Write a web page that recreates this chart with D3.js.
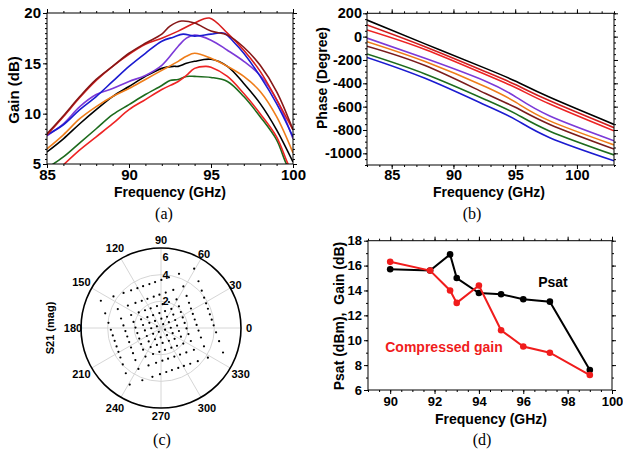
<!DOCTYPE html>
<html>
<head>
<meta charset="utf-8">
<script src="https://cdn.jsdelivr.net/npm/d3@7"></script>
<style>
  body { margin: 0; background: #fff; }
  svg text { font-family: "Liberation Sans", Arial, sans-serif; font-weight: bold; }
  .cap { font-family: "Liberation Serif", "Times New Roman", serif !important; font-weight: normal !important; }
</style>
</head>
<body>
<svg id="chart" width="623" height="456"></svg>
<script>
// ---------- data ----------
// (a) gain vs frequency, eight states  [GHz, dB]
const gainMaroon = [[85,8.0],[86,9.8],[87,11.7],[88,13.4],[89,14.7],[90,16.0],[91,17.0],[92,17.9],[92.5,18.7],[93.2,19.2],[94,19.0],[95,18.2],[96,17.8],[97,16.6],[98,14.8],[99,12.2],[100,8.4]];
const gainRedHigh = [[85,7.9],[86,9.7],[87,11.6],[88,13.3],[89,14.7],[90,15.9],[91,16.9],[92,17.5],[93,18.2],[94,19.0],[94.9,19.5],[96,18.0],[97,16.3],[98,14.2],[99,11.4],[100,8.4]];
const gainBlue = [[85,7.9],[86,8.9],[87,10.4],[88,11.7],[89,13.2],[90,14.7],[91,16.0],[92,17.2],[92.7,17.6],[93.3,17.9],[94,17.7],[95,17.9],[95.8,18.0],[96.4,17.1],[97,16.0],[98,13.7],[99,11.0],[100,7.7]];
const gainPurple = [[85,7.8],[86,9.0],[87,10.7],[88,11.9],[89,12.5],[90,13.2],[91,13.8],[92,14.8],[93,16.7],[93.5,17.5],[94,17.8],[95,17.3],[96,16.3],[97,15.2],[98,13.8],[99,11.4],[100,7.5]];
const gainOrange = [[85,6.5],[86,7.9],[87,9.5],[88,10.7],[89,11.7],[90,12.5],[91,13.4],[92,14.3],[93,15.2],[93.5,15.7],[94,16.0],[95,15.5],[96,14.7],[97,13.7],[98,12.2],[99,9.7],[100,6.1]];
const gainBlack = [[85,6.2],[86,7.5],[87,9.0],[88,10.4],[89,11.7],[90,12.7],[91,13.7],[92,14.5],[92.7,14.7],[93,14.7],[93.5,15.0],[94,15.2],[95,15.4],[96,14.7],[97,13.0],[98,11.0],[99,8.4],[100,5.2]];
const gainGreen = [[85,4.6],[86,5.7],[87,7.1],[88,8.5],[89,9.9],[90,10.9],[91,11.9],[92,12.8],[92.5,13.3],[93,13.4],[93.5,13.7],[94,13.7],[95,13.6],[96,13.2],[97,11.7],[98,9.7],[99,7.4],[99.6,5.0],[100,4.0]];
const gainRedLow = [[85.8,4.6],[87,6.4],[88,7.7],[89,9.0],[90,10.4],[91,11.4],[92,12.4],[93,13.2],[93.5,13.8],[94,14.5],[94.7,14.7],[95,14.6],[96,13.7],[97,12.0],[98,10.0],[99,7.7],[99.7,5.0],[100,4.2]];

// (b) phase vs frequency  [deg]
const phaseFreq   = [83, 87.7, 92.6, 95.1, 97.8, 103];
const phaseBlack  = [142, -62, -272, -385, -520, -752];
const phaseRed1   = [100, -87, -301, -415, -550, -780];
const phaseRed2   = [57, -110, -325, -440, -578, -808];
const phasePurple = [-12, -186, -382, -520, -680, -892];
const phaseOrange = [-44, -214, -430, -566, -722, -928];
const phaseMaroon = [-82, -248, -488, -610, -752, -963];
const phaseGreen  = [-149, -320, -540, -664, -810, -1014];
const phaseBlue   = [-178, -357, -588, -715, -866, -1064];

// (c) S21 constellation: in-phase / quadrature levels (mag units) and rotation of the grid
const iLevels = [-3.6, -2.6, -1.8, -1.2, -0.7, -0.25, 0.25, 0.7, 1.2, 1.8, 2.6, 3.8];
const qLevels = [-3.25, -2.35, -1.65, -1.1, -0.65, -0.22, 0.22, 0.65, 1.1, 1.65, 2.4, 3.4];
const gridRotationDeg = 19;
const polarAngles = [0, 30, 60, 90, 120, 150, 180, 210, 240, 270, 300, 330];
const polarRings = [2, 4, 6];

// (d) Psat and compressed gain
const satFreq = [90, 91.8, 92.7, 93, 94, 95, 96, 97.2, 99];
const psat = [15.7, 15.6, 16.9, 15.0, 13.8, 13.7, 13.3, 13.1, 7.6];
const compGain = [16.3, 15.6, 14.0, 13.0, 14.4, 10.8, 9.5, 9.0, 7.2];

// ---------- helpers ----------
const svg = d3.select("#chart");
const range = (a, b, s) => d3.range(a, b + s / 2, s);

function framedAxes(g, x, y, o) {
    const [xl, xr] = x.range(), [yb, yt] = y.range();
    const add = (axis, tx, ty) => {
        const a = g.append("g").attr("transform", `translate(${tx},${ty})`).call(axis);
        a.select(".domain").remove();
        a.attr("font-family", null).attr("font-size", null);
        a.selectAll("line").attr("stroke", "#000").attr("stroke-width", 1);
        a.selectAll("text").style("font-size", o.font + "px").attr("fill", "#000");
        return a;
    };
    const fmt = d => String(d);
    // minor ticks on all four sides
    add(d3.axisBottom(x).tickValues(o.xMinor).tickSize(2).tickFormat(""), 0, yb);
    add(d3.axisTop(x).tickValues(o.xMinor).tickSize(2).tickFormat(""), 0, yt);
    add(d3.axisLeft(y).tickValues(o.yMinor).tickSize(2).tickFormat(""), xl, 0);
    add(d3.axisRight(y).tickValues(o.yMinor).tickSize(2).tickFormat(""), xr, 0);
    // major ticks
    add(d3.axisBottom(x).tickValues(o.xMajor).tickSize(4).tickPadding(o.xPad).tickFormat(fmt), 0, yb);
    add(d3.axisTop(x).tickValues(o.xMajor).tickSize(4).tickFormat(""), 0, yt);
    add(d3.axisLeft(y).tickValues(o.yMajor).tickSize(4).tickPadding(o.yPad).tickFormat(fmt), xl, 0);
    add(d3.axisRight(y).tickValues(o.yMajor).tickSize(4).tickFormat(""), xr, 0);
    g.append("rect")
        .attr("x", xl).attr("y", yt)
        .attr("width", xr - xl).attr("height", yb - yt)
        .attr("fill", "none").attr("stroke", "#000").attr("stroke-width", 1);
}

function title(g, txt, x, y, size, rotate) {
    g.append("text")
        .attr("transform", `translate(${x},${y})` + (rotate ? " rotate(-90)" : ""))
        .attr("text-anchor", "middle")
        .attr("dominant-baseline", "central")
        .style("font-size", size + "px")
        .style("white-space", "pre")
        .text(txt);
}

function caption(txt, x, y) {
    svg.append("text").attr("class", "cap")
        .attr("x", x).attr("y", y)
        .attr("text-anchor", "middle")
        .style("font-size", "16px")
        .text(txt);
}

// ---------- (a) gain ----------
{
    const g = svg.append("g");
    const x = d3.scaleLinear().domain([85, 100]).range([47, 293]);
    const y = d3.scaleLinear().domain([5, 20]).range([164, 13]);
    g.append("clipPath").attr("id", "clipA").append("rect")
        .attr("x", 47).attr("y", 13).attr("width", 246).attr("height", 151);
    const series = [
        [gainGreen, "#1d6b1d"], [gainRedLow, "#ee2424"], [gainBlack, "#000000"],
        [gainOrange, "#ef7d1a"], [gainPurple, "#7c3ad8"], [gainBlue, "#1b1bd0"],
        [gainRedHigh, "#d81e1e"], [gainMaroon, "#861818"]
    ];
    const line = d3.line().x(d => x(d[0])).y(d => y(d[1])).curve(d3.curveCatmullRom.alpha(0.5));
    g.append("g").attr("clip-path", "url(#clipA)")
        .selectAll("path").data(series).join("path")
        .attr("d", d => line(d[0]))
        .attr("fill", "none").attr("stroke", d => d[1]).attr("stroke-width", 1.6);
    framedAxes(g, x, y, {
        xMajor: [85, 90, 95, 100], xMinor: range(85, 100, 1),
        yMajor: [5, 10, 15, 20], yMinor: range(5, 20, 0.5),
        font: 15, xPad: 1, yPad: 2
    });
    title(g, "Frequency (GHz)", 170, 192, 14);
    title(g, "Gain (dB)", 13, 90, 15, true);
    caption("(a)", 164, 219);
}

// ---------- (b) phase ----------
{
    const g = svg.append("g");
    const x = d3.scaleLinear().domain([83, 103]).range([367, 614]);
    const y = d3.scaleLinear().domain([-1100, 200]).range([165, 13.3]);
    g.append("clipPath").attr("id", "clipB").append("rect")
        .attr("x", 367).attr("y", 13.3).attr("width", 247).attr("height", 151.7);
    const series = [
        [phaseBlue, "#1b1bd0"], [phaseGreen, "#1d6b1d"], [phaseMaroon, "#7a1c1c"],
        [phaseOrange, "#ef7d1a"], [phasePurple, "#7c3ad8"], [phaseRed2, "#ee2424"],
        [phaseRed1, "#d01e1e"], [phaseBlack, "#000000"]
    ];
    const line = d3.line().x((d, i) => x(phaseFreq[i])).y(d => y(d)).curve(d3.curveNatural);
    g.append("g").attr("clip-path", "url(#clipB)")
        .selectAll("path").data(series).join("path")
        .attr("d", d => line(d[0]))
        .attr("fill", "none").attr("stroke", d => d[1]).attr("stroke-width", 1.6);
    framedAxes(g, x, y, {
        xMajor: [85, 90, 95, 100], xMinor: range(83, 103, 1),
        yMajor: range(-1000, 200, 200), yMinor: range(-1100, 200, 50),
        font: 14.5, xPad: 1, yPad: 1
    });
    title(g, "Frequency (GHz)", 489, 192, 14);
    title(g, "Phase (Degree)", 322, 78, 14, true);
    caption("(b)", 472, 219);
}

// ---------- (c) polar constellation ----------
{
    const g = svg.append("g").attr("transform", "translate(161,328)");
    const r = d3.scaleLinear().domain([0, 6]).range([0, 80]);
    const rad = d => d * Math.PI / 180;
    polarRings.slice(0, -1).forEach(v => {
        g.append("circle").attr("r", r(v)).attr("fill", "none").attr("stroke", "#d6d6d6").attr("stroke-width", 1);
    });
    g.selectAll("line.spoke").data(polarAngles).join("line").attr("class", "spoke")
        .attr("x1", 0).attr("y1", 0)
        .attr("x2", d => r(6) * Math.cos(rad(d))).attr("y2", d => -r(6) * Math.sin(rad(d)))
        .attr("stroke", "#d6d6d6").attr("stroke-width", 1);
    g.append("circle").attr("r", r(6)).attr("fill", "none").attr("stroke", "#000").attr("stroke-width", 1.6);

    const labelR = d => d % 90 === 0 ? 88 : (String(d).length === 3 ? 92 : 86);
    g.selectAll("text.ang").data(polarAngles).join("text").attr("class", "ang")
        .attr("x", d => labelR(d) * Math.cos(rad(d)))
        .attr("y", d => -labelR(d) * Math.sin(rad(d)))
        .attr("text-anchor", "middle").attr("dominant-baseline", "central")
        .style("font-size", "11px").text(d => d);

    const ringLabelShift = { 2: 4, 4: 4, 6: 13 };
    g.selectAll("text.rl").data(polarRings).join("text").attr("class", "rl")
        .attr("x", 1.5).attr("y", d => -r(d) + ringLabelShift[d])
        .style("font-size", "11px").text(d => d);

    const c = Math.cos(rad(gridRotationDeg)), s = Math.sin(rad(gridRotationDeg));
    const dots = [];
    iLevels.forEach(i => qLevels.forEach(q => dots.push({ re: i * c - q * s, im: i * s + q * c })));
    g.selectAll("circle.dot").data(dots).join("circle").attr("class", "dot")
        .attr("cx", d => r(d.re)).attr("cy", d => -r(d.im))
        .attr("r", 1.1).attr("fill", "#000");

    title(svg, "S21 (mag)", 50, 328, 11, true);
    caption("(c)", 162, 445);
}

// ---------- (d) Psat / compressed gain ----------
{
    const g = svg.append("g");
    const x = d3.scaleLinear().domain([89, 100]).range([368, 612]);
    const y = d3.scaleLinear().domain([6, 18]).range([390, 240.7]);
    framedAxes(g, x, y, {
        xMajor: range(90, 100, 2), xMinor: range(89, 100, 0.5),
        yMajor: range(6, 18, 2), yMinor: range(6, 18, 1),
        font: 13, xPad: 3, yPad: 2
    });
    const line = d3.line().x((d, i) => x(satFreq[i])).y(d => y(d));
    [[psat, "#000"], [compGain, "#f01c1c"]].forEach(([vals, col]) => {
        g.append("path").attr("d", line(vals)).attr("fill", "none")
            .attr("stroke", col).attr("stroke-width", 2);
        g.selectAll(null).data(vals).join("circle")
            .attr("cx", (d, i) => x(satFreq[i])).attr("cy", d => y(d))
            .attr("r", 3.3).attr("fill", col);
    });
    g.append("text").attr("x", 553).attr("y", 282).attr("text-anchor", "middle")
        .attr("dominant-baseline", "central").style("font-size", "14px").text("Psat");
    g.append("text").attr("x", 444).attr("y", 347).attr("text-anchor", "middle")
        .attr("dominant-baseline", "central").attr("fill", "#f01c1c")
        .style("font-size", "14px").text("Compressed gain");
    title(g, "Frequency (GHz)", 491, 419, 14);
    title(g, "Psat (dBm),  Gain (dB)", 339, 316, 14, true);
    caption("(d)", 482, 445);
}
</script>
</body>
</html>
